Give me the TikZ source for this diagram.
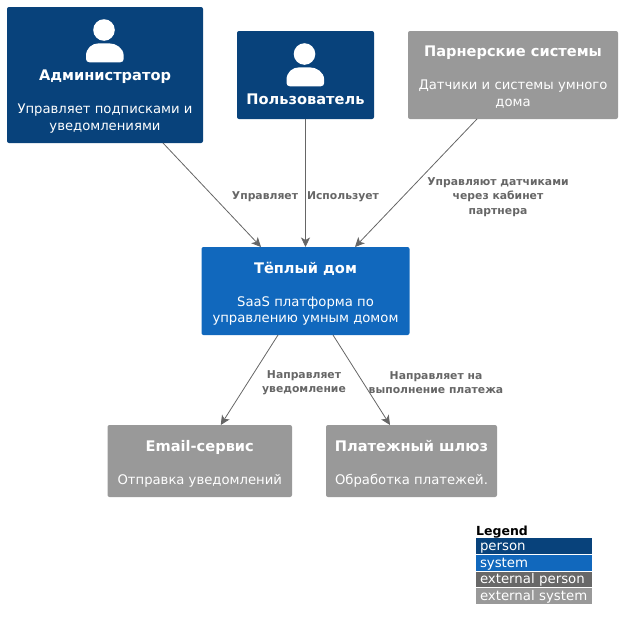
\documentclass[tikz,border=0pt]{standalone}
\usepackage{fontspec}
\setmainfont{DejaVu Sans}
\usetikzlibrary{arrows.meta}
\definecolor{cperson}{HTML}{08427B}
\definecolor{csystem}{HTML}{1168BD}
\definecolor{cextperson}{HTML}{686868}
\definecolor{cextsystem}{HTML}{999999}
\definecolor{cline}{HTML}{666666}
% width, height, top offset to first line, title, description
\newcommand{\cardtext}[5]{\parbox[c][#2pt][t]{#1pt}{\centering\vspace*{#3pt}%
  {\fontsize{14.6}{16}\selectfont\bfseries #4\par}\vspace{17pt}%
  {\fontsize{13.2}{16.3}\selectfont #5\par}}}
\tikzset{
  card/.style={anchor=north west,inner sep=0pt,outer sep=0pt,rounded corners=2pt,text=white,font=\fontsize{13}{16}\selectfont},
  conn/.style={draw=cline,line width=0.8pt,-{Stealth[length=9.5pt,width=9pt,inset=2.5pt]}},
  edgelabel/.style={text=cline,align=center,font=\fontsize{10.8}{14.2}\selectfont\bfseries,inner sep=0pt},
  legendbar/.style={anchor=north west,inner xsep=4pt,inner ysep=0pt,outer sep=0pt,minimum width=116pt,text width=108pt,text height=12pt,text depth=2.6pt,text=white,align=left,font=\fontsize{13.3}{14}\selectfont},
  personicon/.pic={
    \fill[white] (-1,23) circle (10.8);
    \fill[white] (-15.5,55.3) .. controls (-17.5,55.3) and (-19,54) .. (-19,52)
      -- (-19,49) .. controls (-19,41) and (-13,36.3) .. (-6,36.3)
      -- (4,36.3) .. controls (11,36.3) and (18.7,41) .. (18.7,49)
      -- (18.7,52) .. controls (18.7,54) and (17.2,55.3) .. (15.2,55.3) -- cycle;
  }
}
\begin{document}
\begin{tikzpicture}[x=1pt,y=-1pt]
\useasboundingbox (0,0) rectangle (622,629);
\node[card,fill=cperson] (admin) at (7,7) {\cardtext{196}{136}{63}{Администратор}{Управляет подписками и\\уведомлениями}};
\node[card,fill=cperson] (user) at (237,31) {\parbox[c][88pt][t]{137pt}{\centering\vspace*{63pt}{\fontsize{14.6}{16}\selectfont\bfseries Пользователь\par}}};
\node[card,fill=cextsystem] (partner) at (408,31) {\cardtext{210}{88}{15}{Парнерские системы}{Датчики и системы умного\\дома}};
\node[card,fill=csystem] (main) at (201.5,247) {\cardtext{208}{88}{15}{Тёплый дом}{SaaS платформа по\\управлению умным домом}};
\node[card,fill=cextsystem] (email) at (107.5,425) {\cardtext{184.5}{72}{15}{Email-сервис}{Отправка уведомлений}};
\node[card,fill=cextsystem] (pay) at (326,425) {\cardtext{171}{72}{15}{Платежный шлюз}{Обработка платежей.}};
\pic at (admin.north) {personicon};
\pic at (user.north) {personicon};
\draw[conn] ([xshift=58pt]admin.south) -- ([xshift=-44.5pt]main.north);
\draw[conn] (user.south) -- (main.north);
\draw[conn] ([xshift=-36pt]partner.south) -- ([xshift=49.5pt]main.north);
\draw[conn] ([xshift=-27.5pt]main.south) -- ([xshift=21pt]email.north);
\draw[conn] ([xshift=27.5pt]main.south) -- ([xshift=-21.5pt]pay.north);
\node[edgelabel] (l1) at (265,197) {Управляет};
\node[edgelabel] (l2) at (343,197) {Использует};
\node[edgelabel] (l3) at (498,197) {Управляют датчиками\\через кабинет\\партнера};
\node[edgelabel] (l4) at (304,383) {Направляет\\уведомление};
\node[edgelabel] (l5) at (436,383) {Направляет на\\выполнение платежа};
\node[anchor=base west,inner sep=0pt,font=\fontsize{12.5}{14}\selectfont\bfseries] (legend) at (476,535) {Legend};
\node[legendbar,fill=cperson,minimum height=16pt] (lp) at (476,538) {person};
\node[legendbar,fill=csystem,minimum height=15.5pt] (ls) at (476,555) {system};
\node[legendbar,fill=cextperson,minimum height=15.5pt] (lep) at (476,571.5) {external person};
\node[legendbar,fill=cextsystem,minimum height=15.5pt] (les) at (476,588) {external system};
\end{tikzpicture}
\end{document}
